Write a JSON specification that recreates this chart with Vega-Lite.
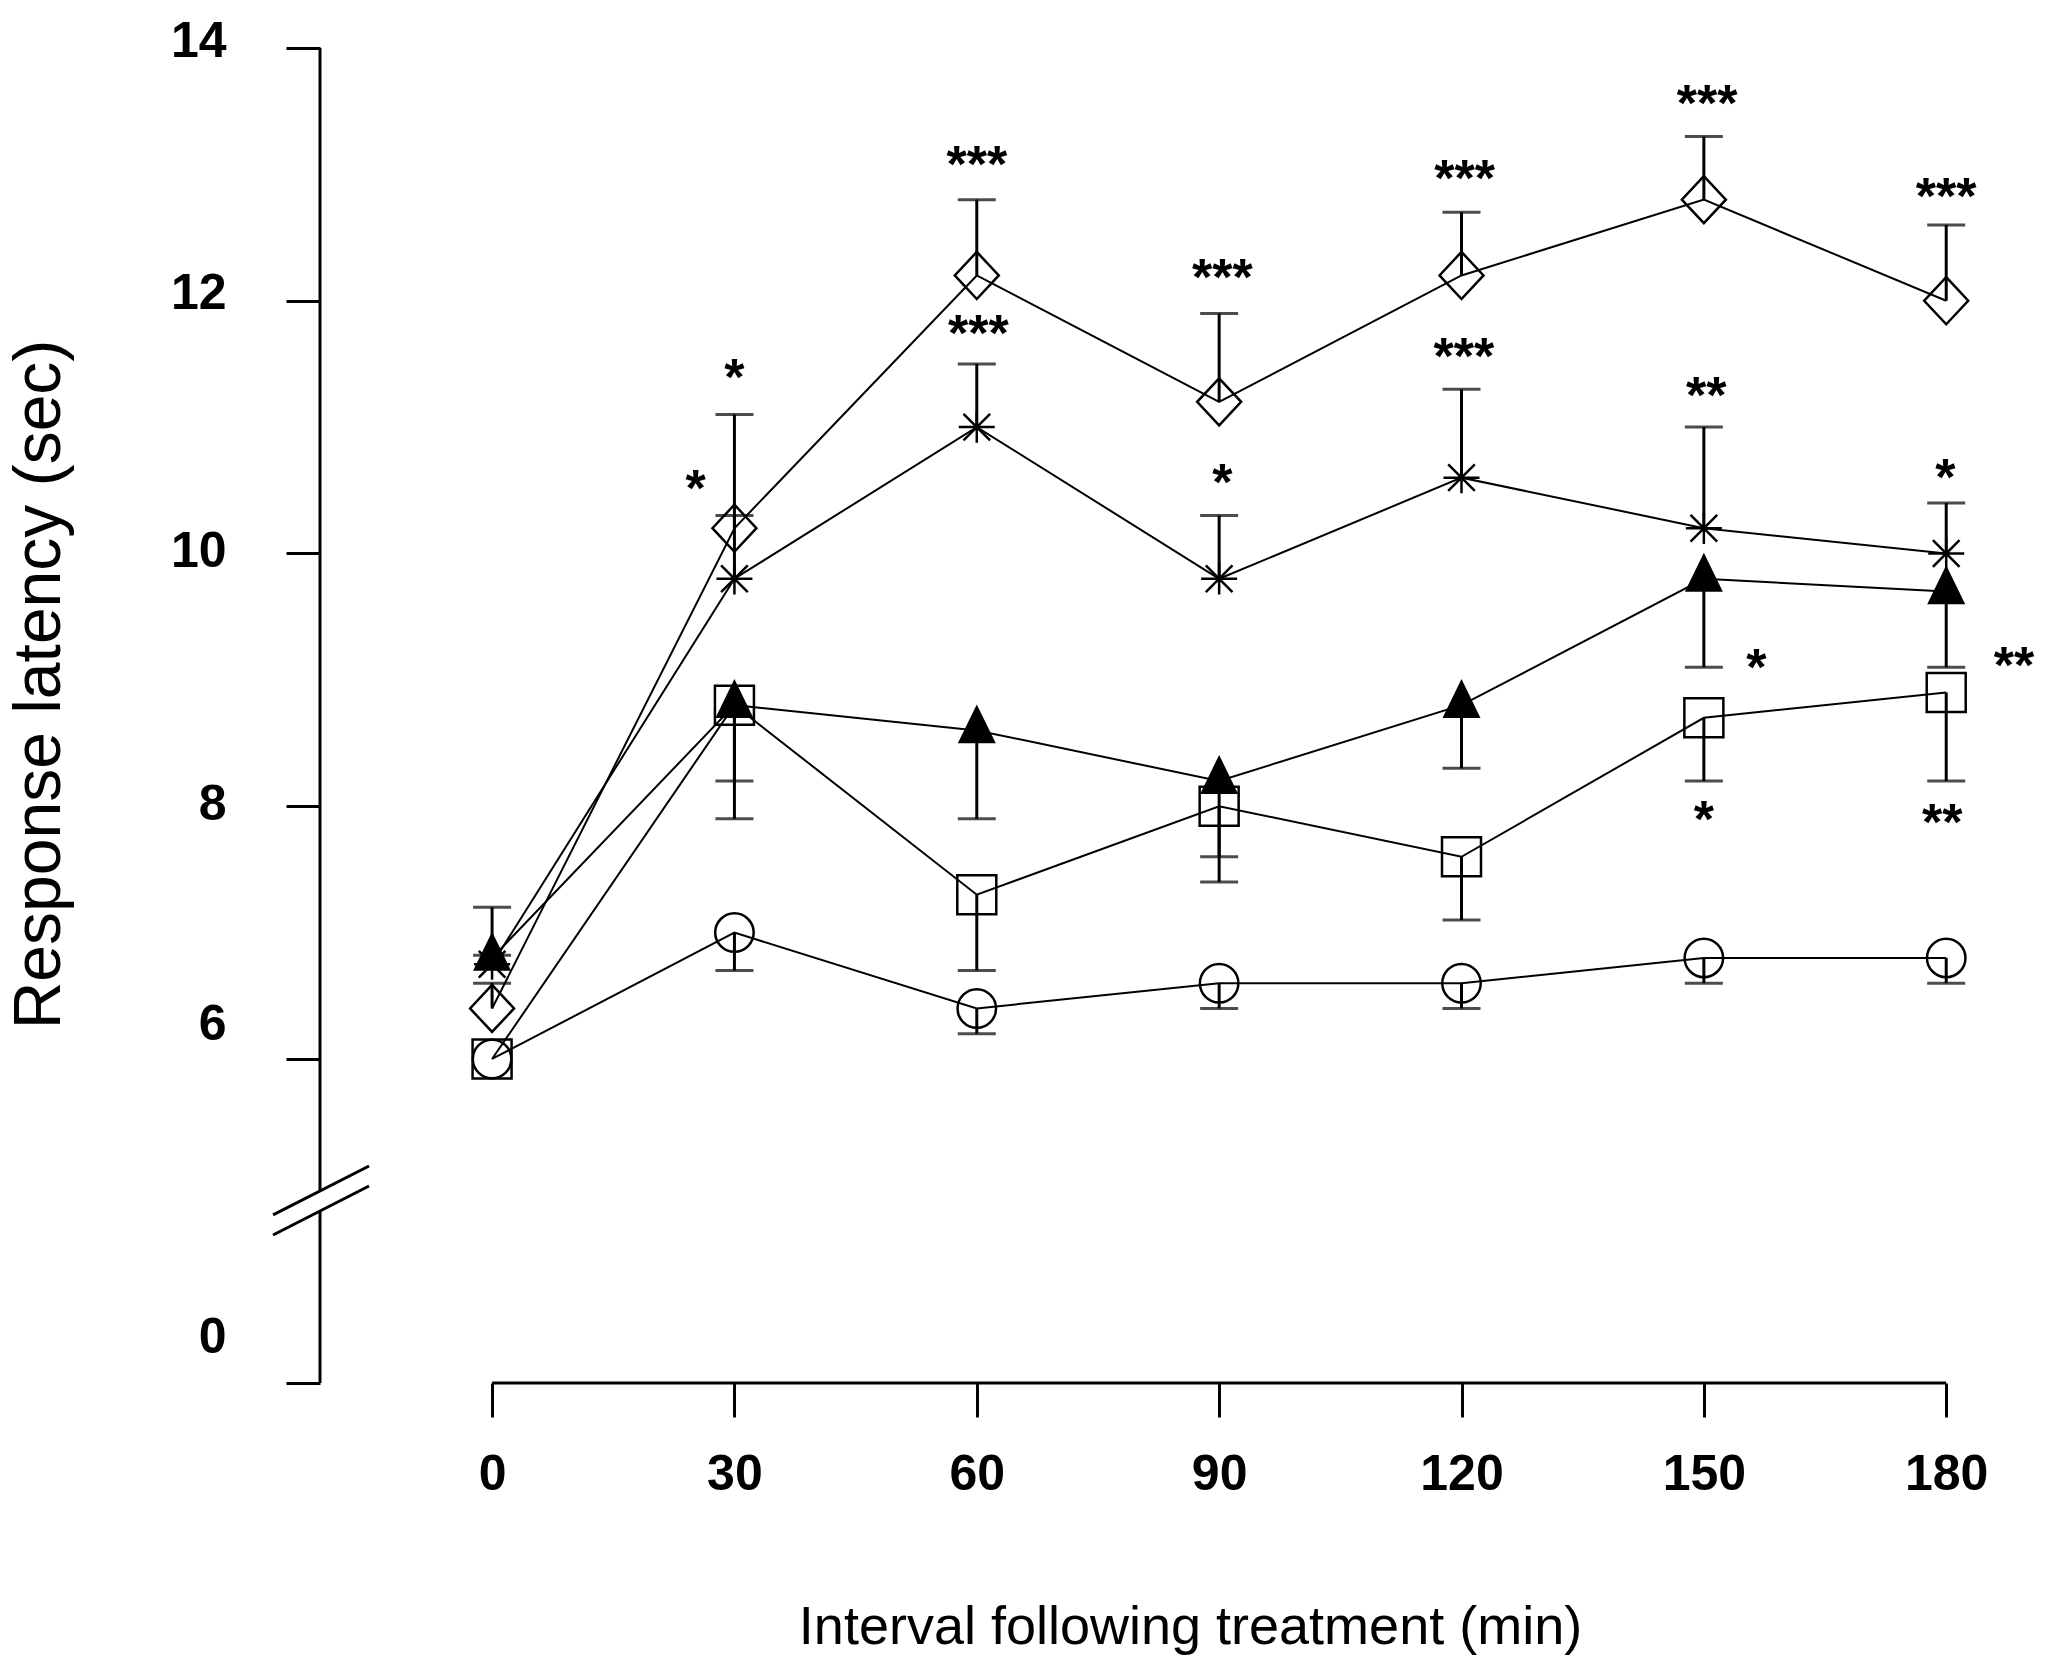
{
  "$schema": "https://vega.github.io/schema/vega-lite/v6.json",
  "width": 1707,
  "height": 1335,
  "autosize": {"type": "none"},
  "padding": {"left": 320, "top": 48, "right": 27, "bottom": 283},
  "background": "white",
  "config": {"view": {"stroke": null}, "font": "Liberation Sans"},
  "datasets": {
    "series": [
      {"g": "circle", "x": 0, "y": 6.0, "e": null},
      {"g": "circle", "x": 30, "y": 7.0, "e": 6.7},
      {"g": "circle", "x": 60, "y": 6.4, "e": 6.2},
      {"g": "circle", "x": 90, "y": 6.6, "e": 6.4},
      {"g": "circle", "x": 120, "y": 6.6, "e": 6.4},
      {"g": "circle", "x": 150, "y": 6.8, "e": 6.6},
      {"g": "circle", "x": 180, "y": 6.8, "e": 6.6},
      {"g": "square", "x": 0, "y": 6.0, "e": null},
      {"g": "square", "x": 30, "y": 8.8, "e": 8.2},
      {"g": "square", "x": 60, "y": 7.3, "e": 6.7},
      {"g": "square", "x": 90, "y": 8.0, "e": 7.6},
      {"g": "square", "x": 120, "y": 7.6, "e": 7.1},
      {"g": "square", "x": 150, "y": 8.7, "e": 8.2},
      {"g": "square", "x": 180, "y": 8.9, "e": 8.2},
      {"g": "triangle", "x": 0, "y": 6.8, "e": 7.2},
      {"g": "triangle", "x": 30, "y": 8.8, "e": 7.9},
      {"g": "triangle", "x": 60, "y": 8.6, "e": 7.9},
      {"g": "triangle", "x": 90, "y": 8.2, "e": 7.4},
      {"g": "triangle", "x": 120, "y": 8.8, "e": 8.3},
      {"g": "triangle", "x": 150, "y": 9.8, "e": 9.1},
      {"g": "triangle", "x": 180, "y": 9.7, "e": 9.1},
      {"g": "star", "x": 0, "y": 6.75, "e": 6.82},
      {"g": "star", "x": 30, "y": 9.8, "e": 10.3},
      {"g": "star", "x": 60, "y": 11.0, "e": 11.5},
      {"g": "star", "x": 90, "y": 9.8, "e": 10.3},
      {"g": "star", "x": 120, "y": 10.6, "e": 11.3},
      {"g": "star", "x": 150, "y": 10.2, "e": 11.0},
      {"g": "star", "x": 180, "y": 10.0, "e": 10.4},
      {"g": "diamond", "x": 0, "y": 6.4, "e": 6.6},
      {"g": "diamond", "x": 30, "y": 10.2, "e": 11.1},
      {"g": "diamond", "x": 60, "y": 12.2, "e": 12.8},
      {"g": "diamond", "x": 90, "y": 11.2, "e": 11.9},
      {"g": "diamond", "x": 120, "y": 12.2, "e": 12.7},
      {"g": "diamond", "x": 150, "y": 12.8, "e": 13.3},
      {"g": "diamond", "x": 180, "y": 12.0, "e": 12.6}
    ],
    "signif": [
      {"x": 30, "y": 11.49, "s": "*"},
      {"x": 25.2, "y": 10.61, "s": "*"},
      {"x": 60, "y": 13.18, "s": "***"},
      {"x": 60.2, "y": 11.84, "s": "***"},
      {"x": 90.4, "y": 12.28, "s": "***"},
      {"x": 90.4, "y": 10.66, "s": "*"},
      {"x": 120.4, "y": 13.07, "s": "***"},
      {"x": 120.3, "y": 11.66, "s": "***"},
      {"x": 150.4, "y": 13.66, "s": "***"},
      {"x": 150.3, "y": 11.35, "s": "**"},
      {"x": 180, "y": 12.92, "s": "***"},
      {"x": 179.9, "y": 10.7, "s": "*"},
      {"x": 156.5, "y": 9.2, "s": "*"},
      {"x": 188.4, "y": 9.21, "s": "**"},
      {"x": 150, "y": 7.99, "s": "*"},
      {"x": 179.5, "y": 7.97, "s": "**"}
    ],
    "frame": [
      {"part": "y axis upper", "x": -21.3, "x2": -21.3, "y": 14, "y2": 4.955},
      {"part": "y axis lower", "x": -21.3, "x2": -21.3, "y": 4.797, "y2": 3.436},
      {"part": "break 1", "x": -27.11, "x2": -15.23, "y": 4.766, "y2": 5.153},
      {"part": "break 2", "x": -27.11, "x2": -15.23, "y": 4.607, "y2": 4.995},
      {"part": "x axis", "x": 0, "x2": 180, "y": 3.436, "y2": 3.436}
    ]
  },
  "encoding": {
    "x": {
      "field": "x",
      "type": "quantitative",
      "scale": {"domain": [-21.3, 190], "nice": false, "zero": false},
      "axis": {
        "values": [0, 30, 60, 90, 120, 150, 180],
        "domain": false,
        "grid": false,
        "tickSize": 34,
        "tickWidth": 3,
        "tickColor": "black",
        "labelFont": "Liberation Sans",
        "labelFontSize": 50,
        "labelFontWeight": "bold",
        "labelColor": "black",
        "labelPadding": 32,
        "labelBaseline": "top",
        "labelFlush": false,
        "labelOverlap": false,
        "title": "Interval following treatment (min)",
        "titleFont": "Liberation Sans",
        "titleFontSize": 54,
        "titleFontWeight": "normal",
        "titleColor": "black",
        "titleX": 870,
        "titleY": 244,
        "titleAlign": "center",
        "titleBaseline": "middle"
      }
    },
    "y": {
      "field": "y",
      "type": "quantitative",
      "scale": {"domain": [3.436, 14], "nice": false, "zero": false},
      "axis": {
        "values": [3.436, 6, 8, 10, 12, 14],
        "labelExpr": "datum.value < 5 ? '0' : datum.label",
        "domain": false,
        "grid": false,
        "tickSize": 34,
        "tickWidth": 3,
        "tickColor": "black",
        "labelFont": "Liberation Sans",
        "labelFontSize": 50,
        "labelFontWeight": "bold",
        "labelColor": "black",
        "labelPadding": 60,
        "labelAlign": "right",
        "labelBaseline": "middle",
        "labelOffset": {
          "condition": [
            {"test": "datum.value < 5", "value": -46},
            {"test": "datum.value < 7", "value": -34},
            {"test": "datum.value > 11", "value": -7}
          ],
          "value": -2
        },
        "labelFlush": false,
        "labelOverlap": false,
        "title": "Response latency (sec)",
        "titleFont": "Liberation Sans",
        "titleFontSize": 66,
        "titleFontWeight": "normal",
        "titleColor": "black",
        "titleAngle": 270,
        "titleX": -281,
        "titleY": 636,
        "titleAlign": "center",
        "titleBaseline": "middle"
      }
    }
  },
  "layer": [
    {
      "data": {"name": "frame"},
      "mark": {"type": "rule", "color": "black", "strokeWidth": 3},
      "encoding": {
        "x2": {"field": "x2"},
        "y2": {"field": "y2"}
      }
    },
    {
      "data": {"name": "series"},
      "transform": [{"filter": "isValid(datum.e)"}],
      "mark": {"type": "rule", "color": "black", "strokeWidth": 3},
      "encoding": {
        "y2": {"field": "e"}
      }
    },
    {
      "data": {"name": "series"},
      "transform": [{"filter": "isValid(datum.e)"}],
      "mark": {"type": "tick", "orient": "horizontal", "color": "black", "size": 38, "thickness": 3},
      "encoding": {
        "y": {"field": "e", "type": "quantitative", "scale": {"domain": [3.436, 14], "nice": false, "zero": false}}
      }
    },
    {
      "data": {"name": "series"},
      "mark": {"type": "line", "color": "black", "strokeWidth": 2},
      "encoding": {
        "detail": {"field": "g"}
      }
    },
    {
      "data": {"name": "series"},
      "transform": [{"filter": "datum.g != 'triangle'"}],
      "mark": {"type": "point", "filled": false, "color": "black", "strokeWidth": 2.5, "opacity": 1},
      "encoding": {
        "shape": {
          "field": "g",
          "scale": {
            "type": "ordinal",
            "domain": ["circle", "square", "diamond", "star"],
            "range": ["circle", "square", "M0,-1.07L1,0L0,1.07L-1,0Z", "M-1,0L1,0M0,-0.87L0,0.87M-0.74,-0.74L0.74,0.74M-0.74,0.74L0.74,-0.74"]
          },
          "legend": null
        },
        "size": {
          "field": "g",
          "type": "nominal",
          "scale": {
            "type": "ordinal",
            "domain": ["circle", "square", "diamond", "star"],
            "range": [1482, 1521, 1936, 1296]
          },
          "legend": null
        }
      }
    },
    {
      "data": {"name": "series"},
      "transform": [{"filter": "datum.g == 'triangle'"}],
      "mark": {"type": "point", "filled": true, "color": "black", "opacity": 1, "size": 1444, "shape": "M0,-1.37L1,0.68L-1,0.68Z"}
    },
    {
      "data": {"name": "signif"},
      "mark": {"type": "text", "color": "black", "font": "Liberation Sans", "fontSize": 52, "fontWeight": "bold", "align": "center", "baseline": "middle", "dy": 14},
      "encoding": {
        "text": {"field": "s"}
      }
    }
  ]
}
